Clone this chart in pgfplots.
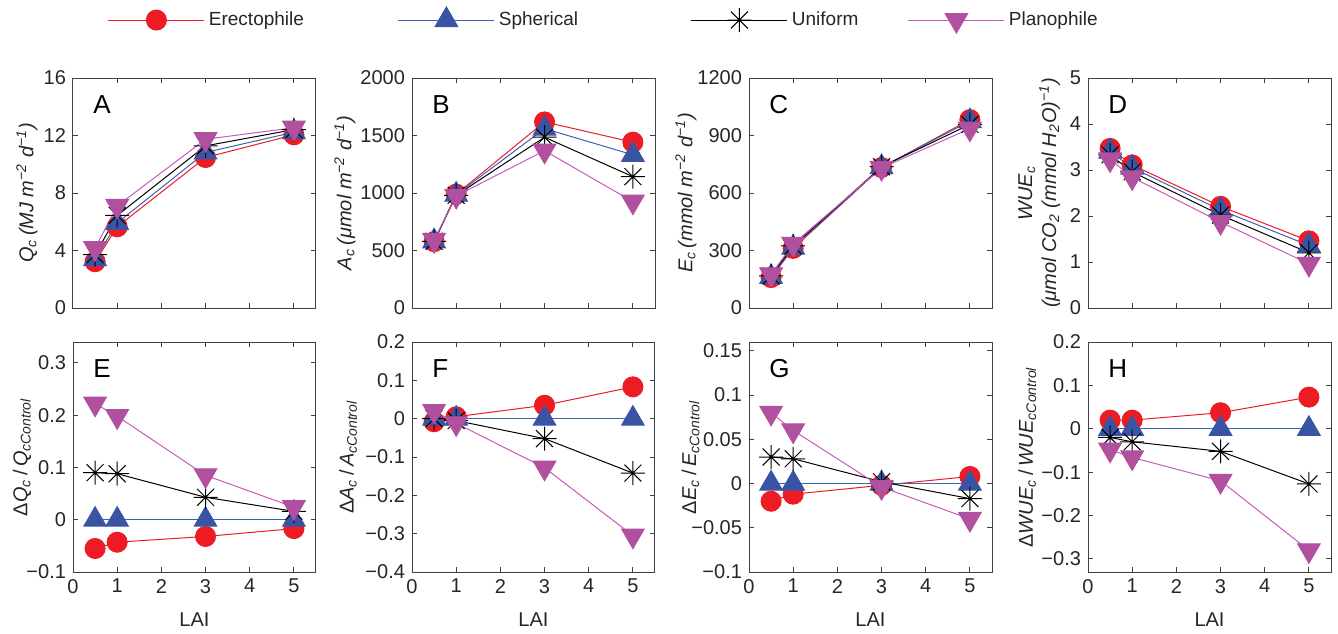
\documentclass[border=0pt]{standalone}
\usepackage{fontspec}
\setmainfont{Liberation Sans}
\usepackage{pgfplots}
\pgfplotsset{compat=1.18}
\definecolor{cE}{RGB}{237,28,36}
\definecolor{cS}{RGB}{58,84,164}
\definecolor{cSl}{RGB}{64,96,180}
\definecolor{cP}{RGB}{176,80,158}
\definecolor{cPl}{RGB}{200,90,185}
\definecolor{txt}{RGB}{38,38,38}
\definecolor{axc}{RGB}{64,64,64}
\pgfdeclareplotmark{ast8}{%
 \pgfpathmoveto{\pgfqpoint{-\pgfplotmarksize}{0pt}}\pgfpathlineto{\pgfqpoint{\pgfplotmarksize}{0pt}}%
 \pgfpathmoveto{\pgfqpoint{0pt}{-\pgfplotmarksize}}\pgfpathlineto{\pgfqpoint{0pt}{\pgfplotmarksize}}%
 \pgfpathmoveto{\pgfqpoint{-0.7071\pgfplotmarksize}{-0.7071\pgfplotmarksize}}\pgfpathlineto{\pgfqpoint{0.7071\pgfplotmarksize}{0.7071\pgfplotmarksize}}%
 \pgfpathmoveto{\pgfqpoint{-0.7071\pgfplotmarksize}{0.7071\pgfplotmarksize}}\pgfpathlineto{\pgfqpoint{0.7071\pgfplotmarksize}{-0.7071\pgfplotmarksize}}%
 \pgfusepathqstroke}
\pgfplotsset{
 sE/.style={color=cE, line width=0.5pt, mark=*, mark size=5pt, mark options={solid, fill=cE, draw=cE}},
 sS/.style={color=cSl, line width=0.5pt, mark=triangle*, mark size=6.5pt, mark options={solid, fill=cS, draw=cS}},
 sU/.style={color=black, line width=0.5pt, mark=ast8, mark size=6pt, mark options={solid, line width=0.5pt}},
 sP/.style={color=cPl, line width=0.5pt, mark=triangle*, mark size=6.5pt, mark options={solid, fill=cP, draw=cP, rotate=180}},
 panel/.style={scale only axis, width=121.5pt, height=115pt, anchor=north west,
  xmin=0, xmax=5.5, xtick={0,1,2,3,4,5},
  tick align=inside, major tick length=2.5pt,
  axis line style={draw=axc, line width=0.5pt},
  every tick/.style={axc, line width=0.5pt},
  ticklabel style={font=\fontsize{10}{12}\selectfont, text=txt},
  label style={font=\fontsize{10}{12}\selectfont, text=txt},
  xlabel style={yshift=-3pt}},
 toprow/.style={xticklabels={}},
 botrow/.style={xticklabels={0,1,2,3,4,5}, xlabel={LAI}},
 ylx/.style={ylabel style={at={(axis description cs:#1,0.5)}, anchor=center}},
}
\newcommand{\plabel}[1]{\node[anchor=west, font=\fontsize{13}{15}\selectfont, text=black] at (rel axis cs:0.055,0.885) {#1};}
\begin{document}
\begin{tikzpicture}
\useasboundingbox (0,0) rectangle (669pt,-316.5pt);
% A
\begin{axis}[panel, toprow, at={(36.5pt,-39pt)}, ylx=-0.19,
 ymin=0, ymax=16, ytick={0,4,8,12,16}, yticklabels={0,4,8,12,16},
 ylabel={\itshape Q\textsubscript{c}\,(MJ m\textsuperscript{−2} d\textsuperscript{−1})},
 legend columns=4,
 legend image code/.code={\draw[mark repeat=2,mark phase=2,#1] plot coordinates {(0pt,0pt) (24pt,0pt) (48pt,0pt)};},
 legend style={at={(axis description cs:0.142,1.252)}, anchor=west, draw=none, fill=none,
  inner sep=0pt, font=\fontsize{9.5}{12}\selectfont, text=txt,
  /tikz/every even column/.append style={column sep=0pt}},
 legend cell align=left]
\addplot[sE] coordinates {(0.5,3.22)(1,5.65)(3,10.47)(5,12.05)};
\addlegendentry{\makebox[92.5pt][l]{Erectophile}}
\addplot[sS] coordinates {(0.5,3.40)(1,5.92)(3,10.82)(5,12.23)};
\addlegendentry{\makebox[94pt][l]{Spherical}}
\addplot[sU] coordinates {(0.5,3.71)(1,6.44)(3,11.28)(5,12.41)};
\addlegendentry{\makebox[56pt][l]{Uniform}}
\addplot[sP] coordinates {(0.5,4.16)(1,7.10)(3,11.74)(5,12.54)};
\addlegendentry{Planophile}
\plabel{A}
\end{axis}
% B
\begin{axis}[panel, toprow, at={(206pt,-39pt)}, ylx=-0.276,
 ymin=0, ymax=2000, ytick={0,500,1000,1500,2000}, yticklabels={0,500,1000,1500,2000},
 ylabel={\itshape A\textsubscript{c}\,(μmol m\textsuperscript{−2} d\textsuperscript{−1})}]
\addplot[sE] coordinates {(0.5,577)(1,990)(3,1618)(5,1442)};
\addplot[sS] coordinates {(0.5,580)(1,985)(3,1560)(5,1332)};
\addplot[sU] coordinates {(0.5,580)(1,980)(3,1485)(5,1142)};
\addplot[sP] coordinates {(0.5,592)(1,975)(3,1368)(5,925)};
\plabel{B}
\end{axis}
% C
\begin{axis}[panel, toprow, at={(374.5pt,-39pt)}, ylx=-0.26,
 ymin=0, ymax=1200, ytick={0,300,600,900,1200}, yticklabels={0,300,600,900,1200},
 ylabel={\itshape E\textsubscript{c}\,(mmol m\textsuperscript{−2} d\textsuperscript{−1})}]
\addplot[sE] coordinates {(0.5,159)(1,311)(3,733)(5,983)};
\addplot[sS] coordinates {(0.5,162)(1,315)(3,735)(5,975)};
\addplot[sU] coordinates {(0.5,167)(1,324)(3,737)(5,958)};
\addplot[sP] coordinates {(0.5,175)(1,334)(3,731)(5,936)};
\plabel{C}
\end{axis}
% D
\begin{axis}[panel, toprow, at={(544pt,-39pt)}, ylx=-0.2,
 ymin=0, ymax=5, ytick={0,1,2,3,4,5}, yticklabels={0,1,2,3,4,5},
 ylabel style={align=center},
 ylabel={\itshape WUE\textsubscript{c}\\\itshape (μmol CO\textsubscript{2} (mmol H\textsubscript{2}O)\textsuperscript{−1})}]
\addplot[sE] coordinates {(0.5,3.47)(1,3.11)(3,2.21)(5,1.46)};
\addplot[sS] coordinates {(0.5,3.40)(1,3.05)(3,2.13)(5,1.36)};
\addplot[sU] coordinates {(0.5,3.33)(1,2.96)(3,2.02)(5,1.20)};
\addplot[sP] coordinates {(0.5,3.23)(1,2.84)(3,1.87)(5,0.96)};
\plabel{D}
\end{axis}
% E
\begin{axis}[panel, botrow, at={(36.5pt,-171pt)}, ylx=-0.21,
 ymin=-0.1, ymax=0.34, ytick={-0.1,0,0.1,0.2,0.3}, yticklabels={−0.1,0,0.1,0.2,0.3},
 ylabel={Δ\textit{Q}\textsubscript{\textit{c}}\,/\,\textit{Q}\textsubscript{\textit{cControl}}}]
\addplot[sE] coordinates {(0.5,-0.055)(1,-0.043)(3,-0.032)(5,-0.017)};
\addplot[sS] coordinates {(0.5,0)(1,0)(3,0)(5,0)};
\addplot[sU] coordinates {(0.5,0.090)(1,0.088)(3,0.043)(5,0.016)};
\addplot[sP] coordinates {(0.5,0.222)(1,0.198)(3,0.085)(5,0.024)};
\plabel{E}
\end{axis}
% F
\begin{axis}[panel, botrow, at={(206pt,-171pt)}, ylx=-0.263,
 ymin=-0.4, ymax=0.2, ytick={-0.4,-0.3,-0.2,-0.1,0,0.1,0.2}, yticklabels={−0.4,−0.3,−0.2,−0.1,0,0.1,0.2},
 ylabel={Δ\textit{A}\textsubscript{\textit{c}}\,/\,\textit{A}\textsubscript{\textit{cControl}}}]
\addplot[sE] coordinates {(0.5,-0.008)(1,0.005)(3,0.035)(5,0.083)};
\addplot[sS] coordinates {(0.5,0)(1,0)(3,0)(5,0)};
\addplot[sU] coordinates {(0.5,0.0)(1,-0.005)(3,-0.052)(5,-0.142)};
\addplot[sP] coordinates {(0.5,0.020)(1,-0.012)(3,-0.128)(5,-0.305)};
\plabel{F}
\end{axis}
% G
\begin{axis}[panel, botrow, at={(374.5pt,-171pt)}, ylx=-0.24,
 ymin=-0.1, ymax=0.16, ytick={-0.1,-0.05,0,0.05,0.1,0.15}, yticklabels={−0.1,−0.05,0,0.05,0.1,0.15},
 ylabel={Δ\textit{E}\textsubscript{\textit{c}}\,/\,\textit{E}\textsubscript{\textit{cControl}}}]
\addplot[sE] coordinates {(0.5,-0.020)(1,-0.012)(3,-0.002)(5,0.008)};
\addplot[sS] coordinates {(0.5,0)(1,0)(3,0)(5,0)};
\addplot[sU] coordinates {(0.5,0.030)(1,0.028)(3,0.002)(5,-0.017)};
\addplot[sP] coordinates {(0.5,0.080)(1,0.060)(3,-0.004)(5,-0.040)};
\plabel{G}
\end{axis}
% H
\begin{axis}[panel, botrow, at={(544pt,-171pt)}, ylx=-0.25,
 ymin=-0.33, ymax=0.2, ytick={-0.3,-0.2,-0.1,0,0.1,0.2}, yticklabels={−0.3,−0.2,−0.1,0,0.1,0.2},
 ylabel={Δ\textit{WUE}\textsubscript{\textit{c}}\,/\,\textit{WUE}\textsubscript{\textit{cControl}}}]
\addplot[sE] coordinates {(0.5,0.020)(1,0.020)(3,0.037)(5,0.073)};
\addplot[sS] coordinates {(0.5,0)(1,0)(3,0)(5,0)};
\addplot[sU] coordinates {(0.5,-0.020)(1,-0.030)(3,-0.052)(5,-0.127)};
\addplot[sP] coordinates {(0.5,-0.048)(1,-0.066)(3,-0.120)(5,-0.280)};
\plabel{H}
\end{axis}
\end{tikzpicture}
\end{document}
